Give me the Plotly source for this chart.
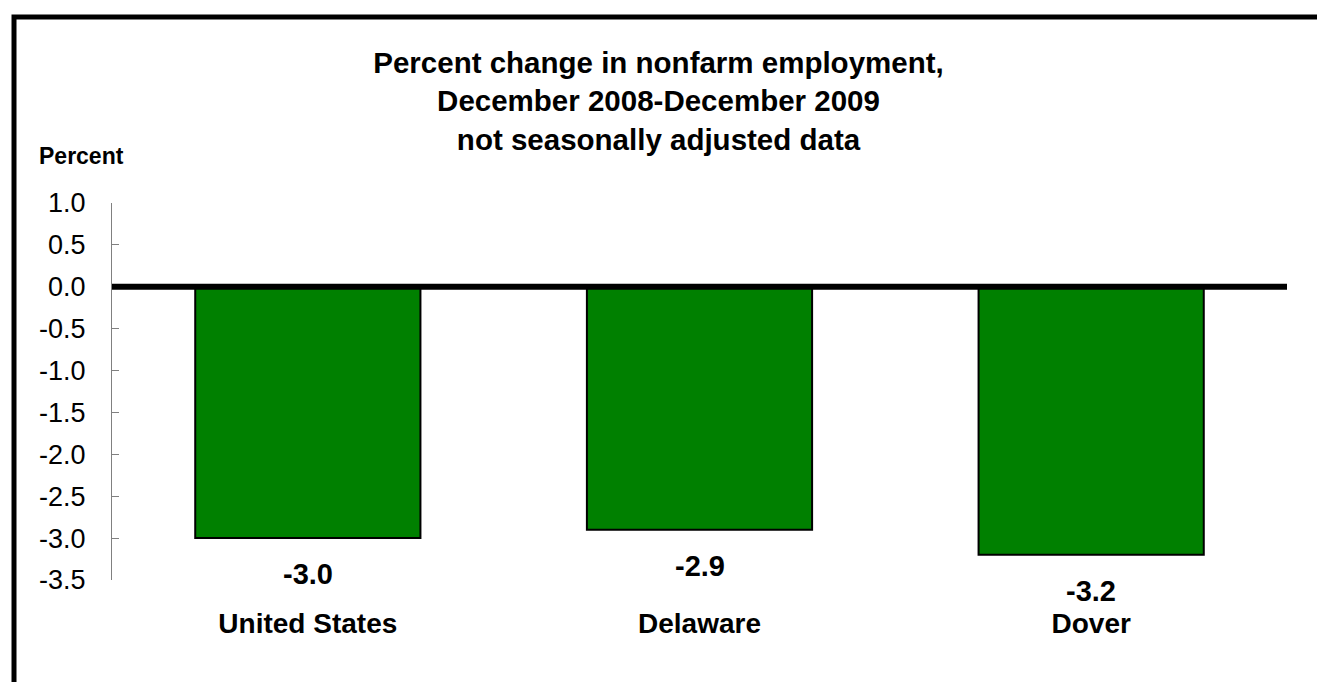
import plotly.graph_objects as go

categories = ["United States", "Delaware", "Dover"]
values = [-3.0, -2.9, -3.2]
value_labels = ["-3.0", "-2.9", "-3.2"]
y_ticks = [1.0, 0.5, 0.0, -0.5, -1.0, -1.5, -2.0, -2.5, -3.0, -3.5]
y_tick_text = ["%.1f" % v for v in y_ticks]

FONT = "Liberation Sans, Arial, sans-serif"

fig = go.Figure()
fig.add_trace(go.Bar(
    x=categories, y=values,
    marker=dict(color="#008000", line=dict(color="black", width=2)),
    width=0.575,
    hoverinfo="skip",
))

for c, v, t in zip(categories, values, value_labels):
    fig.add_annotation(x=c, y=v, text="<b>%s</b>" % t, showarrow=False,
                       yshift=-36, font=dict(family=FONT, size=29, color="black"))

fig.add_annotation(xref="paper", yref="paper", x=-0.064, y=1.1247,
                   xanchor="left", yanchor="middle", showarrow=False,
                   text="<b>Percent</b>", font=dict(family=FONT, size=23, color="black"))

# zero line above bars
fig.add_shape(type="line", xref="paper", yref="y", x0=0, x1=1, y0=0, y1=0,
              line=dict(color="black", width=6), layer="above")

# outer frame (extends beyond right/bottom edge)
fig.add_shape(type="rect", xref="paper", yref="paper",
              x0=-0.0834, x1=1.2, y0=-0.6, y1=1.4935,
              line=dict(color="black", width=5), layer="above")

fig.update_layout(
    width=1317, height=682,
    margin=dict(l=112, r=30, t=203, b=102),
    paper_bgcolor="white", plot_bgcolor="white",
    showlegend=False,
    font=dict(family=FONT, color="black"),
    title=dict(
        text="<b>Percent change in nonfarm employment,<br>December 2008-December 2009<br>not seasonally adjusted data</b>",
        x=0.5, xref="container", xanchor="center",
        y=1 - 73 / 682, yref="container", yanchor="middle",
        font=dict(family=FONT, size=29.5, color="black"),
    ),
    xaxis=dict(
        showline=False, showgrid=False, zeroline=False, ticks="",
        tickfont=dict(family=FONT, size=28, color="black"),
        ticklabelstandoff=24,
        tickvals=categories, ticktext=["<b>%s</b>" % c for c in categories],
    ),
    yaxis=dict(
        range=[-3.5, 1.0], tickvals=y_ticks, ticktext=y_tick_text,
        showline=True, linecolor="#808080", linewidth=1,
        ticks="inside", ticklen=7, tickcolor="#808080", tickwidth=1,
        showgrid=False, zeroline=False,
        tickfont=dict(family=FONT, size=27, color="black"),
        ticklabelstandoff=20,
    ),
)

fig.write_html("out.html", config={"displayModeBar": False},
               post_script="document.body.style.margin='0';")
